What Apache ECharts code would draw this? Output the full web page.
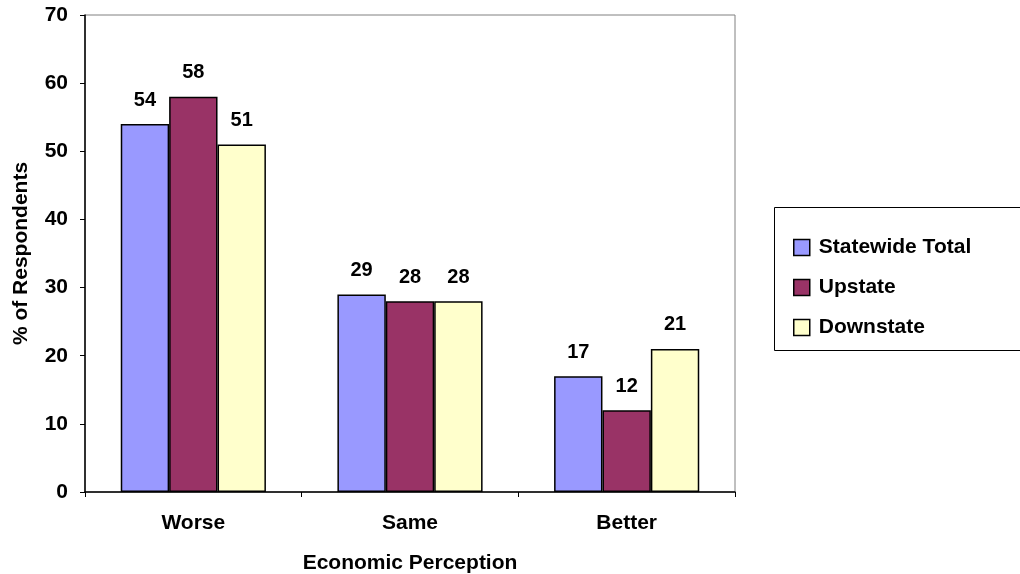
<!DOCTYPE html>
<html>
<head>
<meta charset="utf-8">
<script src="https://cdn.jsdelivr.net/npm/echarts@6/dist/echarts.min.js"></script>
<style>
html,body{margin:0;padding:0;background:#fff;}
#chart{width:1020px;height:574px;}
</style>
</head>
<body>
<div id="chart"></div>
<script>
var categories = ['Worse', 'Same', 'Better'];
var seriesNames = ['Statewide Total', 'Upstate', 'Downstate'];
var statewide = [54, 29, 17];
var upstate = [58, 28, 12];
var downstate = [51, 28, 21];
var yTicks = {min: 0, max: 70, interval: 10};

var colors = ['#9999FF', '#993366', '#FFFFCC'];
var FONT = '"Liberation Sans", Arial, sans-serif';

function mkSeries(name, data, color) {
  return {
    name: name,
    type: 'bar',
    data: data,
    barGap: '0%',
    barCategoryGap: '33%',
    itemStyle: {color: color, borderColor: '#000', borderWidth: 1.5},
    label: {
      show: true, position: 'top', distance: 14,
      color: '#000', fontFamily: FONT, fontWeight: 'bold', fontSize: 20
    }
  };
}

var chart = echarts.init(document.getElementById('chart'));
chart.setOption({
  animation: false,
  backgroundColor: '#fff',
  grid: {left: 85, right: 285, top: 15, bottom: 82, show: true, borderColor: '#808080', borderWidth: 1,
         containLabel: false, outerBoundsMode: 'none'},
  graphic: [{
    type: 'rect', left: 774, top: 207, z: 0,
    shape: {width: 260, height: 143},
    style: {fill: '#fff', stroke: '#000', lineWidth: 1}
  }],
  legend: {
    orient: 'vertical', left: 793, top: 237, z: 10, padding: 0,
    itemWidth: 16, itemHeight: 16, itemGap: 19, itemStyle: {borderColor: '#000', borderWidth: 1.5},
    icon: 'rect',
    textStyle: {fontFamily: FONT, fontWeight: 'bold', fontSize: 21, color: '#000', padding: [0, 0, 0, 4]},
    data: seriesNames
  },
  xAxis: {
    type: 'category', data: categories,
    name: 'Economic Perception', nameLocation: 'middle', nameGap: 61,
    nameTextStyle: {fontFamily: FONT, fontWeight: 'bold', fontSize: 21, color: '#000'},
    axisLine: {lineStyle: {color: '#000', width: 1.5}},
    axisTick: {show: true, alignWithLabel: false, length: 5, lineStyle: {color: '#000'}},
    axisLabel: {fontFamily: FONT, fontWeight: 'bold', fontSize: 21, color: '#000', margin: 21}
  },
  yAxis: {
    type: 'value', min: yTicks.min, max: yTicks.max, interval: yTicks.interval,
    name: '% of Respondents', nameLocation: 'middle', nameGap: 53, nameRotate: 90,
    nameTextStyle: {fontFamily: FONT, fontWeight: 'bold', fontSize: 21, color: '#000'},
    axisLine: {show: true, lineStyle: {color: '#000', width: 1.5}},
    axisTick: {show: true, length: 5, lineStyle: {color: '#000'}},
    splitLine: {show: false},
    axisLabel: {fontFamily: FONT, fontWeight: 'bold', fontSize: 21, color: '#000', margin: 17}
  },
  series: [
    mkSeries(seriesNames[0], statewide, colors[0]),
    mkSeries(seriesNames[1], upstate, colors[1]),
    mkSeries(seriesNames[2], downstate, colors[2])
  ]
});
</script>
</body>
</html>
